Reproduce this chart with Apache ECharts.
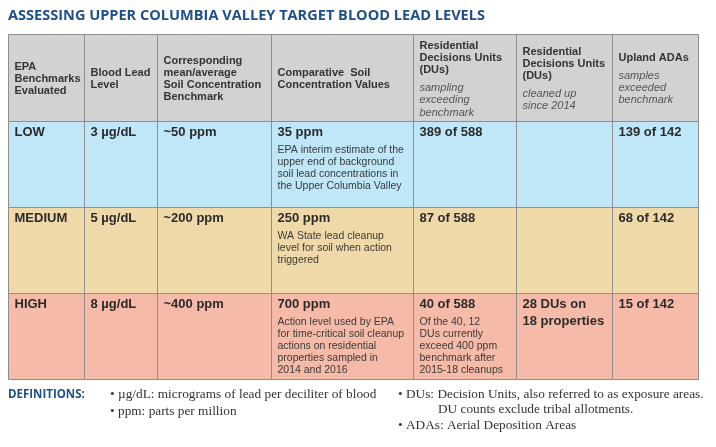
<!DOCTYPE html>
<html>
<head>
<meta charset="utf-8">
<script src="https://cdn.jsdelivr.net/npm/echarts@6/dist/echarts.min.js"></script>
<style>
html,body{margin:0;padding:0;background:#fff;}
#main{width:716px;height:447px;}
</style>
</head>
<body>
<div id="main"></div>
<script>
// ---- Data ----
const titleText = 'ASSESSING UPPER COLUMBIA VALLEY TARGET BLOOD LEAD LEVELS';
const headerTitles = [
  'EPA\nBenchmarks\nEvaluated',
  'Blood Lead\nLevel',
  'Corresponding\nmean/average\nSoil Concentration\nBenchmark',
  'Comparative  Soil\nConcentration Values',
  'Residential\nDecisions Units\n(DUs)',
  'Residential\nDecisions Units\n(DUs)',
  'Upland ADAs'
];
const headerNotes = ['', '', '', '', 'sampling\nexceeding\nbenchmark', 'cleaned up\nsince 2014', 'samples\nexceeded\nbenchmark'];
const levels = ['LOW', 'MEDIUM', 'HIGH'];
const bloodLead = ['3 µg/dL', '5 µg/dL', '8 µg/dL'];
const soilBenchmark = ['~50 ppm', '~200 ppm', '~400 ppm'];
const compValues = ['35 ppm', '250 ppm', '700 ppm'];
const compNotes = [
  'EPA interim estimate of the\nupper end of background\nsoil lead concentrations in\nthe Upper Columbia Valley',
  'WA State lead cleanup\nlevel for soil when action\ntriggered',
  'Action level used by EPA\nfor time-critical soil cleanup\nactions on residential\nproperties sampled in\n2014 and 2016'
];
const duSampling = ['389 of 588', '87 of 588', '40 of 588'];
const duNotes = ['', '', 'Of the 40, 12\nDUs currently\nexceed 400 ppm\nbenchmark after\n2015-18 cleanups'];
const duCleaned = ['', '', '28 DUs on\n18 properties'];
const uplandADAs = ['139 of 142', '68 of 142', '15 of 142'];
const definitionsLeft = ['• µg/dL: micrograms of lead per deciliter of blood', '• ppm: parts per million'];
const definitionsRight = ['• DUs: Decision Units, also referred to as exposure areas.', 'DU counts exclude tribal allotments.', '• ADAs: Aerial Deposition Areas'];

// ---- Layout (not data) ----
const colWidths = [76, 73, 114, 142, 103, 96, 86];
const rowHeights = [87, 86, 86, 86];
const rowFills = ['#d2d2d2', '#bfe7f7', '#efd9a8', '#f6baa9'];
const totalW = colWidths.reduce((a, b) => a + b, 0);
const totalH = rowHeights.reduce((a, b) => a + b, 0);

function edges(arr) { const e = [0]; arr.forEach(v => e.push(e[e.length - 1] + v)); return e; }
const xE = edges(colWidths), yE = edges(rowHeights);

function bodyText(r, c) {
  const main = [levels, bloodLead, soilBenchmark, compValues, duSampling, duCleaned, uplandADAs][c][r];
  const note = c === 3 ? compNotes[r] : (c === 4 ? duNotes[r] : '');
  let s = main ? '{b|' + main + '}' : '';
  if (note) s += '\n{gap| }\n{n|' + note + '}';
  return s;
}
function headText(c) {
  let s = '{hb|' + headerTitles[c] + '}';
  if (headerNotes[c]) s += '\n{hgap| }\n{hi|' + headerNotes[c] + '}';
  return s;
}

const cells = [];
for (let r = 0; r < rowHeights.length; r++) {
  for (let c = 0; c < colWidths.length; c++) {
    cells.push([xE[c], xE[c + 1], yE[r], yE[r + 1], r, c]);
  }
}

const rich = {
  hb: { fontFamily: 'Liberation Sans, Arial', fontWeight: 'bold', fontSize: 11, lineHeight: 12.2, fill: '#333' },
  hi: { fontFamily: 'Liberation Sans, Arial', fontStyle: 'italic', fontSize: 11, lineHeight: 12.2, fill: '#555' },
  hgap: { fontSize: 6, lineHeight: 6 },
  b: { fontFamily: 'Liberation Sans, Arial', fontWeight: 'bold', fontSize: 13, lineHeight: 17, fill: '#2b2b2b' },
  gap: { fontSize: 4, lineHeight: 4 },
  n: { fontFamily: 'Liberation Sans, Arial', fontSize: 10.5, lineHeight: 12, fill: '#3a3a3a' }
};

const serif = { fontFamily: 'Liberation Serif', fontSize: 13.3, fill: '#333', verticalAlign: 'middle' };

const chart = echarts.init(document.getElementById('main'), null, { renderer: 'canvas' });
chart.setOption({
  animation: false,
  backgroundColor: '#ffffff',
  grid: { left: 8, top: 34, width: totalW, height: totalH },
  xAxis: { type: 'value', min: 0, max: totalW, show: false },
  yAxis: { type: 'value', min: 0, max: totalH, inverse: true, show: false },
  graphic: [
    { type: 'text', x: 8, y: 16, scaleX: 0.97,
      style: { text: titleText, fontFamily: 'Open Sans', fontWeight: 'bold', fontSize: 15, fill: '#1f4f8c', verticalAlign: 'middle' } },
    { type: 'text', x: 8, y: 395,
      style: { text: 'DEFINITIONS:', fontFamily: 'Open Sans', fontWeight: 'bold', fontSize: 11.5, fill: '#1f4f8c', verticalAlign: 'middle' } },
    { type: 'text', x: 110, y: 395, style: Object.assign({ text: definitionsLeft[0] }, serif) },
    { type: 'text', x: 110, y: 412, style: Object.assign({ text: definitionsLeft[1] }, serif) },
    { type: 'text', x: 398, y: 395, style: Object.assign({ text: definitionsRight[0] }, serif) },
    { type: 'text', x: 438, y: 410, style: Object.assign({ text: definitionsRight[1] }, serif) },
    { type: 'text', x: 398, y: 426, style: Object.assign({ text: definitionsRight[2] }, serif) }
  ],
  series: [{
    type: 'custom',
    coordinateSystem: 'cartesian2d',
    data: cells,
    clip: false,
    renderItem: function (params, api) {
      const x0 = api.value(0), x1 = api.value(1), y0 = api.value(2), y1 = api.value(3);
      const r = api.value(4), c = api.value(5);
      const p0 = api.coord([x0, y0]), p1 = api.coord([x1, y1]);
      const left = Math.round(p0[0]) + 0.5, top = Math.round(p0[1]) + 0.5;
      const w = Math.round(p1[0]) - Math.round(p0[0]), h = Math.round(p1[1]) - Math.round(p0[1]);
      const children = [{
        type: 'rect',
        shape: { x: left, y: top, width: w, height: h },
        style: { fill: rowFills[r], stroke: '#8e8e8e', lineWidth: 1 }
      }];
      if (r === 0) {
        children.push({ type: 'text', style: { text: headText(c), rich: rich, x: left + 6, y: top + h / 2 + 1, verticalAlign: 'middle', align: 'left' } });
      } else {
        const t = bodyText(r - 1, c);
        if (t) children.push({ type: 'text', style: { text: t, rich: rich, x: left + 6, y: top + 2, verticalAlign: 'top', align: 'left' } });
      }
      return { type: 'group', children: children };
    }
  }]
});
</script>
</body>
</html>
